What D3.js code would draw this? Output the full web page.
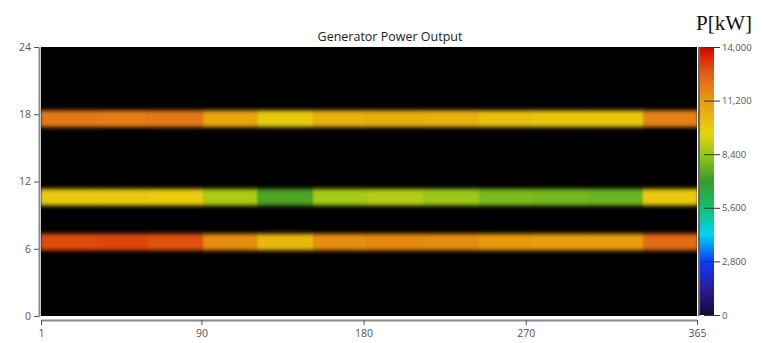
<!DOCTYPE html>
<html>
<head>
<meta charset="utf-8">
<script src="https://cdn.jsdelivr.net/npm/d3@7"></script>
<style>
  body { margin: 0; background: #fff; }
  text { font-family: "Open Sans", "DejaVu Sans", sans-serif; }
</style>
</head>
<body>
<script>
// day of year where each month starts (last entry = end of year)
const monthStart = [1, 32, 60, 91, 121, 152, 182, 213, 244, 274, 305, 335, 366];
// hour of day where each output band sits
const bandHours = [17.6, 10.6, 6.6];
// monthly power per band [kW]
const evening = [12000, 11900, 12000, 10900, 9800, 10500, 10600, 10500, 10100, 9900, 9900, 11800];
const midday  = [9800, 9800, 9700, 8700, 7300, 8600, 8800, 8500, 8000, 7900, 7800, 9800];
const morning = [12900, 13000, 12800, 11500, 10300, 11500, 11600, 11500, 11200, 11100, 11100, 12300];
const xTicks = [1, 90, 180, 270, 365];
const yTicks = [0, 6, 12, 18, 24];
const cTicks = [0, 2800, 5600, 8400, 11200, 14000];

const width = 764, height = 343;
const margin = {top: 47, right: 67, bottom: 27, left: 41};
const bandHalf = 0.75;

var svg = d3.select("body").append("svg")
    .attr("width", width)
    .attr("height", height);

var x = d3.scaleLinear().domain([1, 365]).range([margin.left, width - margin.right]);
var y = d3.scaleLinear().domain([0, 24]).range([height - margin.bottom, margin.top]);

var color = d3.scaleLinear()
    .domain([0, 1400, 2800, 4200, 5600, 7000, 8400, 9500, 11200, 12600, 14000])
    .range(["#150a32", "#2a1c9c", "#0a3cff", "#00d6f0", "#12c070", "#3a9a2a",
            "#94c818", "#e8d410", "#e89a10", "#e06014", "#d80000"]);

// build cells: one per band per month
var cells = [];
[evening, midday, morning].forEach((vals, b) => {
    vals.forEach((v, m) => {
        cells.push({hour: bandHours[b], d0: monthStart[m], d1: monthStart[m + 1], value: v});
    });
});

var defs = svg.append("defs");
defs.append("clipPath").attr("id", "plotclip")
  .append("rect")
    .attr("x", x(1)).attr("y", y(24))
    .attr("width", x(365) - x(1)).attr("height", y(0) - y(24));
var blur = defs.append("filter").attr("id", "soft")
    .attr("x", "-5%").attr("y", "-50%").attr("width", "110%").attr("height", "200%");
blur.append("feGaussianBlur").attr("stdDeviation", "0.8 2.2");

// black background of plot
svg.append("rect")
    .attr("x", x(1)).attr("y", y(24))
    .attr("width", x(365) - x(1)).attr("height", y(0) - y(24))
    .attr("fill", "#000");

svg.append("g")
    .attr("clip-path", "url(#plotclip)")
  .append("g")
    .attr("filter", "url(#soft)")
  .selectAll("rect")
  .data(cells)
  .enter()
  .append("rect")
    .attr("x", d => x(d.d0))
    .attr("width", d => x(Math.min(d.d1, 365)) - x(d.d0) + 0.5)
    .attr("y", d => y(d.hour + bandHalf))
    .attr("height", d => y(d.hour - bandHalf) - y(d.hour + bandHalf))
    .attr("fill", d => color(d.value));

// axes
var xaxis = d3.axisBottom(x).tickValues(xTicks).tickSize(5).tickSizeOuter(0);
var yaxis = d3.axisLeft(y).tickValues(yTicks).tickSize(5).tickSizeOuter(0);

var gx = svg.append("g")
    .attr("transform", `translate(0, ${height - margin.bottom + 4})`)
    .call(xaxis);
var gy = svg.append("g")
    .attr("transform", `translate(${margin.left - 2}, 0)`)
    .call(yaxis);

[gx, gy].forEach(g => {
    g.select(".domain").attr("stroke", "#8a8a8a").attr("stroke-width", 2);
    g.selectAll(".tick line").attr("stroke", "#555");
    g.selectAll(".tick text").attr("fill", "#555").style("font-size", "10.5px");
});
gx.selectAll(".tick text").attr("dy", "0.9em");

// title
svg.append("text")
    .attr("x", 390).attr("y", 41)
    .attr("text-anchor", "middle")
    .style("font-size", "12.5px")
    .attr("fill", "#222")
    .text("Generator Power Output");

// colour bar
var cbX = 700, cbW = 14;
var cy = d3.scaleLinear().domain([0, 14000]).range([y(0) - 1, y(24)]);
var grad = defs.append("linearGradient").attr("id", "cbar")
    .attr("x1", 0).attr("y1", 1).attr("x2", 0).attr("y2", 0);
color.domain().forEach(v => {
    grad.append("stop").attr("offset", v / 14000).attr("stop-color", color(v));
});
svg.append("rect")
    .attr("x", cbX).attr("y", cy(14000))
    .attr("width", cbW).attr("height", cy(0) - cy(14000))
    .attr("fill", "url(#cbar)");
svg.append("line")
    .attr("x1", cbX - 1).attr("x2", cbX - 1)
    .attr("y1", y(24)).attr("y2", y(0))
    .attr("stroke", "#333").attr("stroke-width", 1.5);

var caxis = d3.axisRight(cy).tickValues(cTicks).tickFormat(d3.format(",")).tickSize(6).tickSizeOuter(0);
var gc = svg.append("g")
    .attr("transform", `translate(${cbX + cbW}, 0)`)
    .call(caxis);
gc.select(".domain").remove();
gc.selectAll(".tick line").attr("stroke", "#333").attr("x1", -10);
gc.selectAll(".tick text").attr("fill", "#555").style("font-size", "9.5px").attr("x", 8);

svg.append("text")
    .attr("x", 696).attr("y", 30)
    .style("font-family", "'Liberation Serif', serif")
    .style("font-size", "21px")
    .attr("fill", "#111")
    .text("P[kW]");
</script>
</body>
</html>
